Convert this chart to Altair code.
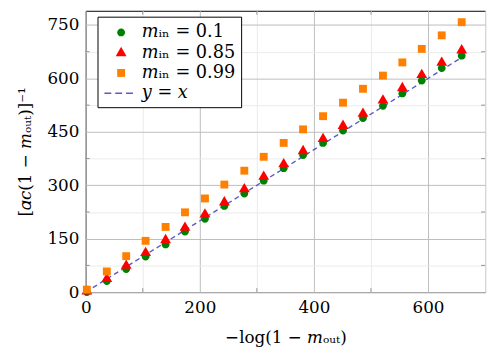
import altair as alt
import pandas as pd

x_vals = [2, 37, 71, 105, 140, 174, 209, 243, 278, 312, 347, 381, 416, 451, 486, 521, 555, 589, 624, 659]
y_01 = [0, 31, 65, 100, 134, 170, 206, 242, 277, 313, 348, 385, 419, 454, 489, 523, 558, 594, 629, 664]
y_085 = [3, 38, 75, 111, 147, 182, 219, 253, 290, 325, 360, 397, 431, 468, 502, 539, 574, 611, 645, 680]
y_099 = [7, 58, 101, 144, 183, 224, 263, 302, 341, 380, 419, 457, 494, 532, 571, 608, 645, 683, 721, 758]
line_x = [0, 659]

series_names = ["𝑚ᵢₙ = 0.1", "𝑚ᵢₙ = 0.85", "𝑚ᵢₙ = 0.99", "𝑦 = 𝑥"]
colors = ["#008000", "#ff0000", "#ff8000", "#5a5ac8"]

x_ticks = [0, 100, 200, 300, 400, 500, 600, 700]
y_ticks = [0, 75, 150, 225, 300, 375, 450, 525, 600, 675, 750]

W, H = 406, 286
FONT = "DejaVu Serif"

# marker paths (unit = 11 px at size 484)
shapes = [
    "M0.364,0A0.364,0.364,0,1,1,-0.364,0A0.364,0.364,0,1,1,0.364,0Z",
    "M0,-0.545L0.5,0.318L-0.5,0.318Z",
    "M-0.364,-0.364H0.364V0.364H-0.364Z",
    "M-1.545,-0.068H-0.909V0.068H-1.545Z M-0.545,-0.068H0.091V0.068H-0.545Z M0.455,-0.068H1.091V0.068H0.455Z",
]

rows = []
for name, ys in zip(series_names[:3], [y_01, y_085, y_099]):
    for xv, yv in zip(x_vals, ys):
        rows.append({"x": xv, "y": yv, "series": name})
pts = pd.DataFrame(rows)
line_df = pd.DataFrame({"x": line_x, "y": line_x})

xscale = alt.Scale(domain=[0, 700], nice=False, zero=False)
yscale = alt.Scale(domain=[0, 790], nice=False, zero=False)

x_axis = alt.Axis(values=x_ticks, labelExpr="datum.value % 200 === 0 ? datum.label : ''",
                  grid=True, gridColor={"expr": "datum.value % 200 === 0 ? '#bdbdbd' : '#ebebeb'"},
                  ticks=False, domain=False, labelFont=FONT,
                  labelFontSize=17, labelColor="black", labelPadding=8,
                  title="−log(1 − 𝑚ₒᵤₜ)", titleFontSize=17, titleFont=FONT,
                  titleFontWeight="normal", titleColor="black", titlePadding=14)
y_axis = alt.Axis(values=y_ticks, labelExpr="datum.value % 150 === 0 ? datum.label : ''",
                  grid=True, gridColor={"expr": "datum.value % 150 === 0 ? '#bdbdbd' : '#ebebeb'"},
                  ticks=False, domain=False, labelFont=FONT,
                  labelFontSize=17, labelColor="black", labelPadding=7,
                  title="[𝛼𝑐(1 − 𝑚ₒᵤₜ)]⁻¹", titleFontSize=17, titleFont=FONT,
                  titleFontWeight="normal", titleColor="black", titlePadding=13)

line = alt.Chart(line_df).mark_line(color=colors[3], strokeDash=[5, 3.5], strokeWidth=1.4).encode(
    x=alt.X("x:Q", scale=xscale, axis=x_axis),
    y=alt.Y("y:Q", scale=yscale, axis=y_axis),
)

points = alt.Chart(pts).mark_point(filled=True, size=484, opacity=1, strokeWidth=0).encode(
    x=alt.X("x:Q", scale=xscale, axis=x_axis),
    y=alt.Y("y:Q", scale=yscale, axis=y_axis),
    color=alt.Color("series:N", scale=alt.Scale(domain=series_names, range=colors),
                    legend=alt.Legend(title=None, orient="none", legendX=12, legendY=6,
                                      fillColor="white", strokeColor="black", padding=5,
                                      symbolOffset=8, labelOffset=10, rowPadding=0.6,
                                      labelFont=FONT, labelFontSize=18, labelColor="black",
                                      labelLimit=300, symbolSize=484, symbolStrokeWidth=0,
                                      cornerRadius=0)),
    shape=alt.Shape("series:N", scale=alt.Scale(domain=series_names, range=shapes)),
)

# inward minor tick marks
xt_minor = pd.DataFrame({"v": [100, 300, 500]})
yt_minor = pd.DataFrame({"v": [75, 225, 375, 525, 675]})
tick_col = "#777777"
tb = alt.Chart(xt_minor).mark_rule(color=tick_col, strokeWidth=0.8).encode(
    x=alt.X("v:Q", scale=xscale, axis=x_axis), y=alt.value(H), y2=alt.value(H - 4))
tt = alt.Chart(xt_minor).mark_rule(color=tick_col, strokeWidth=0.8).encode(
    x=alt.X("v:Q", scale=xscale, axis=x_axis), y=alt.value(0), y2=alt.value(4))
tl = alt.Chart(yt_minor).mark_rule(color=tick_col, strokeWidth=0.8).encode(
    y=alt.Y("v:Q", scale=yscale, axis=y_axis), x=alt.value(0), x2=alt.value(4))
tr = alt.Chart(yt_minor).mark_rule(color=tick_col, strokeWidth=0.8).encode(
    y=alt.Y("v:Q", scale=yscale, axis=y_axis), x=alt.value(W), x2=alt.value(W - 4))

chart = alt.layer(line, tb, tt, tl, tr, points).properties(
    width=W, height=H,
    autosize=alt.AutoSizeParams(type="none"),
    padding={"left": 79, "top": 0, "right": 5, "bottom": 55},
).configure(font=FONT).configure_view(stroke="black", strokeWidth=1).configure_axis(
    labelFlush=False, labelFont=FONT, titleFont=FONT
).configure_legend(labelFont=FONT)

chart.save("out.html", embed_options={"renderer": "svg", "actions": False})
